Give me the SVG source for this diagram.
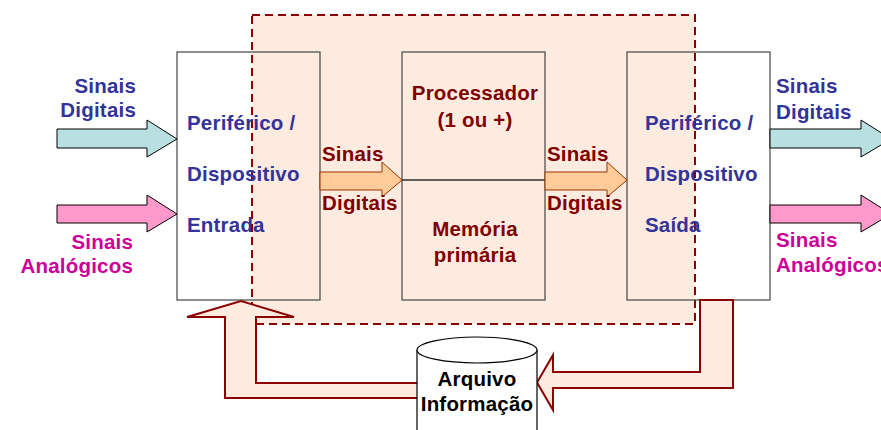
<svg xmlns="http://www.w3.org/2000/svg" width="881" height="430" viewBox="0 0 881 430">
<style>
text{font-family:"Liberation Sans",Arial,sans-serif;font-weight:bold;font-size:20.5px;letter-spacing:0.2px}
.blue{fill:#333399}
.mag{fill:#CC0099}
.red{fill:#800000}
.blk{fill:#000}
.box{fill:none;stroke:#444;stroke-width:1.2}
.cy{fill:#B8E0E0;stroke:#000;stroke-width:1}
.pk{fill:#FF99CC;stroke:#000;stroke-width:1}
.or{fill:#FFCC99;stroke:#993300;stroke-width:1}
.fb{fill:#FDEBE0;stroke:#8B0000;stroke-width:2}
</style>
<rect width="881" height="430" fill="#fff"/>
<g id="box-fills">
<rect x="177" y="52" width="143" height="248" fill="#fff"/>
<rect x="627" y="52" width="143" height="248" fill="#fff"/>
</g>
<g id="system-boundary">
<rect x="252" y="15" width="443" height="309" fill="#FDEBE0" stroke="#8B0000" stroke-width="2" stroke-dasharray="8,5"/>
</g>
<g id="input-device">
<rect class="box" x="177" y="52" width="143" height="248"/>
<text class="blue" x="187" y="130">Periférico /</text>
<text class="blue" x="187" y="181">Dispositivo</text>
<text class="blue" x="187" y="232">Entrada</text>
</g>
<g id="processor">
<rect class="box" x="402" y="52" width="143" height="128"/>
<text class="red" x="475" y="100" text-anchor="middle">Processador</text>
<text class="red" x="475" y="127" text-anchor="middle">(1 ou +)</text>
</g>
<g id="memory">
<rect class="box" x="402" y="180" width="143" height="120"/>
<text class="red" x="475" y="236" text-anchor="middle">Memória</text>
<text class="red" x="475" y="262" text-anchor="middle">primária</text>
</g>
<g id="output-device">
<rect class="box" x="627" y="52" width="143" height="248"/>
<text class="blue" x="645" y="130">Periférico /</text>
<text class="blue" x="645" y="181">Dispositivo</text>
<text class="blue" x="645" y="232">Saída</text>
</g>
<g id="connectors">
<polygon class="cy" points="57,129 147,129 147,120 177,139 147,157 147,148 57,148"/>
<polygon class="pk" points="57,205 147,205 147,195 177,214 147,232 147,223 57,223"/>
<polygon class="cy" points="770,129 861,129 861,120 891,139 861,157 861,148 770,148"/>
<polygon class="pk" points="770,205 861,205 861,195 891,214 861,232 861,223 770,223"/>
<polygon class="or" points="320,172 382,172 382,162 402,180 382,197 382,190 320,190"/>
<polygon class="or" points="545,172 607,172 607,162 627,180 607,197 607,190 545,190"/>
<polygon class="fb" points="241,301 294,317 256,317 256,383 430,383 430,398 225,398 225,317 187,317"/>
<polygon class="fb" points="700,300 733,300 733,388 553,388 553,410 537,382.5 553,355 553,372 700,372"/>
</g>
<g id="labels">
<text class="blue" x="136" y="93" text-anchor="end">Sinais</text>
<text class="blue" x="136" y="117" text-anchor="end">Digitais</text>
<text class="mag" x="133" y="249" text-anchor="end">Sinais</text>
<text class="mag" x="133" y="273" text-anchor="end">Analógicos</text>
<text class="blue" x="776" y="93">Sinais</text>
<text class="blue" x="776" y="119">Digitais</text>
<text class="mag" x="776" y="247">Sinais</text>
<text class="mag" x="776" y="272">Analógicos</text>
<text class="red" x="322" y="161">Sinais</text>
<text class="red" x="322" y="210">Digitais</text>
<text class="red" x="547" y="161">Sinais</text>
<text class="red" x="547" y="210">Digitais</text>
</g>
<g id="storage">
<path d="M417,350 L417,430 A60,13 0 0 0 537,430 L537,350" fill="#fff" stroke="#000" stroke-width="1.2"/>
<ellipse cx="477" cy="350" rx="60" ry="13" fill="#fff" stroke="#000" stroke-width="1.2"/>
<text class="blk" x="477" y="386" text-anchor="middle">Arquivo</text>
<text class="blk" x="477" y="411" text-anchor="middle">Informação</text>
</g>
</svg>
